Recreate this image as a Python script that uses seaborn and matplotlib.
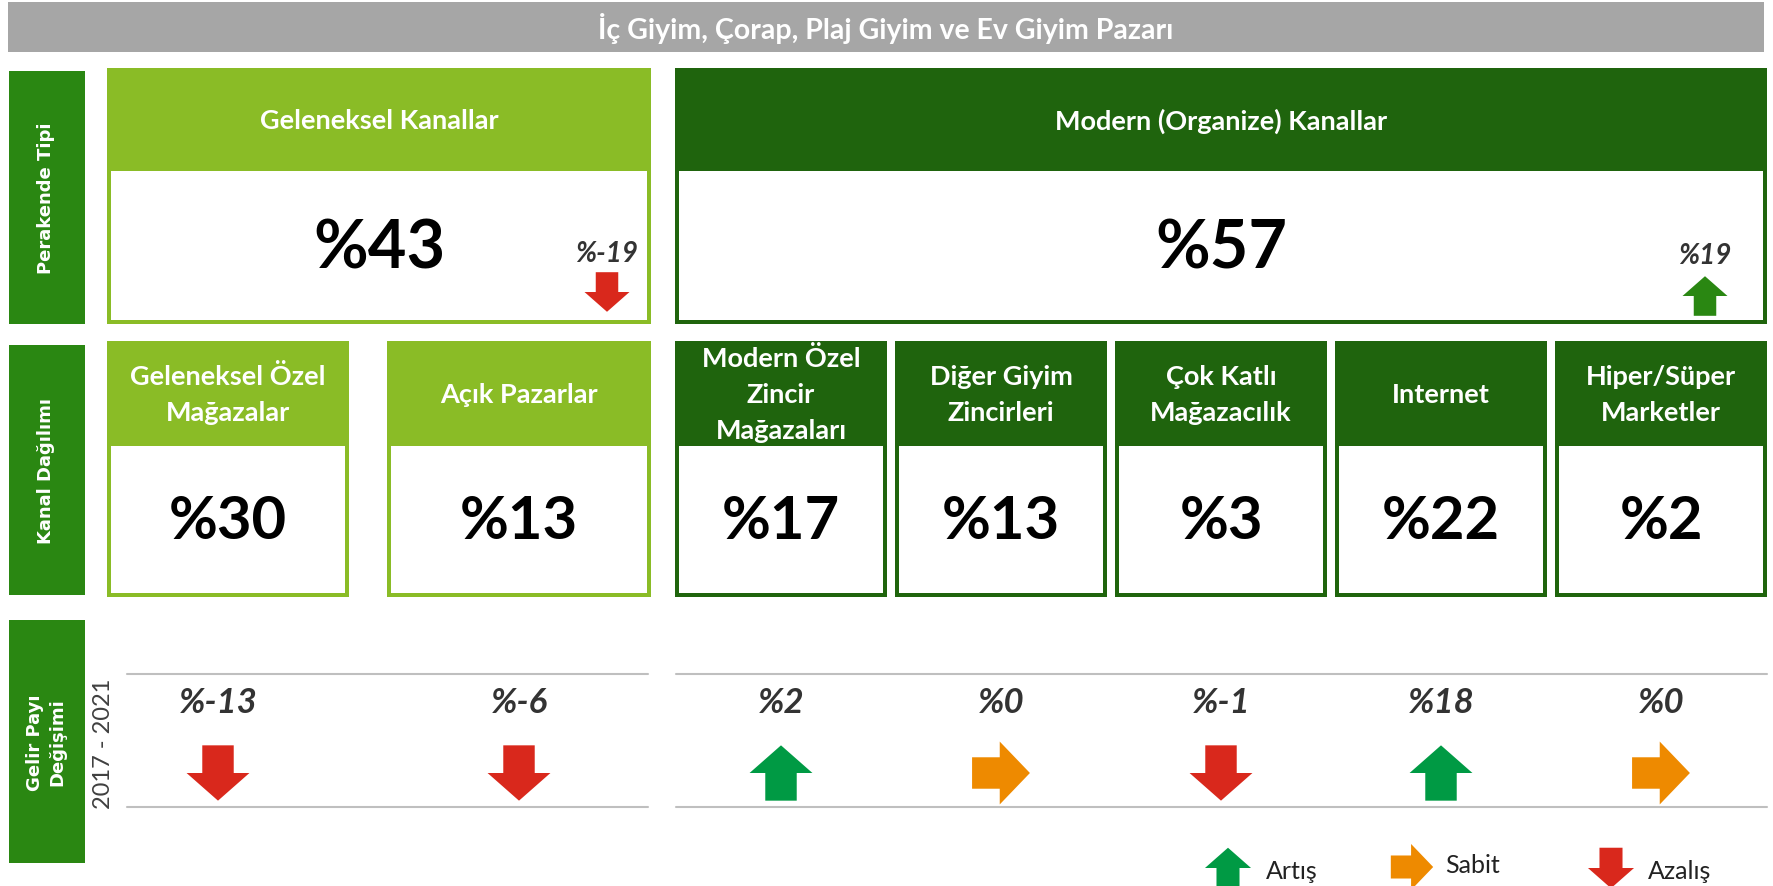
import matplotlib
matplotlib.use("Agg")
import matplotlib.pyplot as plt
from matplotlib.patches import Rectangle
from matplotlib.path import Path
import numpy as np
import pandas as pd
import seaborn as sns

#%% data
title = "İç Giyim, Çorap, Plaj Giyim ve Ev Giyim Pazarı"
row_labels = ["Perakende Tipi", "Kanal Dağılımı", "Gelir Payı\nDeğişimi"]
period = "2017 - 2021"

retail_types = ["Geleneksel Kanallar", "Modern (Organize) Kanallar"]
retail_shares = [43, 57]
retail_change = [-19, 19]

channels = ["Geleneksel Özel\nMağazalar", "Açık Pazarlar", "Modern Özel\nZincir\nMağazaları",
            "Diğer Giyim\nZincirleri", "Çok Katlı\nMağazacılık", "Internet", "Hiper/Süper\nMarketler"]
channel_group = [0, 0, 1, 1, 1, 1, 1]
channel_shares = [30, 13, 17, 13, 3, 22, 2]
channel_change = [-13, -6, 2, 0, -1, 18, 0]

legend_labels = ["Artış", "Sabit", "Azalış"]

#%% styling / layout (pixel space of the 1773x887 picture)
sns.set_theme(style="white")
plt.rcParams['font.family'] = ['Lato', 'DejaVu Sans']

W, H = 1773, 887
grey_bar = "#A6A6A6"
label_green = "#2A8712"
light_green = "#8ABC26"
dark_green = "#1F640D"
group_colors = [light_green, dark_green]
arrow_colors = {"Artış": "#009A44", "Sabit": "#EE8A00", "Azalış": "#D9281C"}
txt_dark = "#333333"

retail_x = [(107, 651), (675, 1767)]
channel_x = [(107, 349), (387, 651), (675, 887), (895, 1107), (1115, 1327), (1335, 1547), (1555, 1767)]
label_y = [(72, 325), (346, 596), (621, 864)]


def direction(v):
    if v > 0:
        return "Artış"
    if v < 0:
        return "Azalış"
    return "Sabit"


def arrow_marker(kind):
    up = np.array([(-0.25, -0.44), (0.25, -0.44), (0.25, 0.0), (0.5, 0.0), (0.0, 0.44),
                   (-0.5, 0.0), (-0.25, 0.0), (-0.25, -0.44)])
    if kind == "Azalış":
        verts = up * [1, -1]
    elif kind == "Sabit":
        verts = np.array([(-0.46, -0.25), (-0.02, -0.25), (-0.02, -0.5), (0.46, 0.0),
                          (-0.02, 0.5), (-0.02, 0.25), (-0.46, 0.25), (-0.46, -0.25)])
    else:
        verts = up
    return Path(verts, closed=True)


markers = {k: arrow_marker(k) for k in legend_labels}


def card(ax, x0, x1, y0, yh, y1, color, b=4):
    ax.add_patch(Rectangle((x0, y0), x1 - x0, y1 - y0, color=color, lw=0))
    ax.add_patch(Rectangle((x0 + b, yh), x1 - x0 - 2 * b, y1 - yh - b, color="white", lw=0))


fig = plt.figure(figsize=(W / 100, H / 100), dpi=100)
ax = fig.add_axes([0, 0, 1, 1])

# title bar
ax.add_patch(Rectangle((8, 3), 1756, 50, color=grey_bar, lw=0))
ax.text(886, 29, title, color="white", fontsize=20.5, fontweight="bold", ha="center", va="center")

# row labels
for (y0, y1), lab in zip(label_y, row_labels):
    ax.add_patch(Rectangle((9, y0), 76, y1 - y0, color=label_green, lw=0))
    ax.text(46, (y0 + y1) / 2, lab, rotation=90, color="white", fontsize=13, fontweight="bold",
            family="DejaVu Sans", ha="center", va="center", linespacing=1.3, multialignment="center")
ax.text(103, 744, period, rotation=90, color="#404040", fontsize=17, ha="center", va="center")

# row 1: retail type
for i, (x0, x1) in enumerate(retail_x):
    card(ax, x0, x1, 69, 172, 325, group_colors[i])
    xc = (x0 + x1) / 2
    ax.text(xc, 121, retail_types[i], color="white", fontsize=19.5, fontweight="bold", ha="center", va="center")
    ax.text(xc, 250, "%{}".format(retail_shares[i]), color="black", fontsize=48, fontweight="bold",
            ha="center", va="center")

small_x = [retail_x[0][1] - 44, retail_x[1][1] - 62]
ax.text(small_x[0], 254, "%{}".format(retail_change[0]), color=txt_dark, fontsize=20,
        fontweight="bold", style="italic", ha="center", va="center")
ax.text(small_x[1], 256, "%{}".format(retail_change[1]), color=txt_dark, fontsize=20,
        fontweight="bold", style="italic", ha="center", va="center")
retail_df = pd.DataFrame({"x": small_x, "y": [293, 297],
                          "dir": [direction(v) for v in retail_change]})
sns.scatterplot(data=retail_df, x="x", y="y", hue="dir", style="dir", markers=markers,
                palette={"Artış": label_green, "Azalış": arrow_colors["Azalış"], "Sabit": arrow_colors["Sabit"]},
                s=1050, linewidth=0, legend=False, ax=ax)

# row 2: channel split
for i, (x0, x1) in enumerate(channel_x):
    card(ax, x0, x1, 342, 447, 598, group_colors[channel_group[i]])
    xc = (x0 + x1) / 2
    ax.text(xc, 395, channels[i], color="white", fontsize=19.5, fontweight="bold", ha="center",
            va="center", linespacing=1.6, multialignment="center")
    ax.text(xc, 522, "%{}".format(channel_shares[i]), color="black", fontsize=43, fontweight="bold",
            ha="center", va="center")

# row 3: revenue share change 2017 - 2021
ax.plot([127, 648], [675, 675], color="#BFBFBF", lw=1.5)
ax.plot([127, 648], [808, 808], color="#BFBFBF", lw=1.5)
ax.plot([676, 1767], [675, 675], color="#BFBFBF", lw=1.5)
ax.plot([676, 1767], [808, 808], color="#BFBFBF", lw=1.5)

centers = [(x0 + x1) / 2 for x0, x1 in channel_x]
centers[0] -= 10
for xc, v in zip(centers, channel_change):
    ax.text(xc, 703, "%{}".format(v), color=txt_dark, fontsize=25, fontweight="bold", style="italic",
            ha="center", va="center")
change_df = pd.DataFrame({"x": centers, "y": [774] * len(centers),
                          "dir": [direction(v) for v in channel_change]})
sns.scatterplot(data=change_df, x="x", y="y", hue="dir", style="dir", markers=markers,
                palette=arrow_colors, s=2050, linewidth=0, legend=False, ax=ax)

# legend at the bottom
leg_df = pd.DataFrame({"x": [1228, 1412, 1611], "y": [869, 868, 869], "dir": legend_labels})
sns.scatterplot(data=leg_df, x="x", y="y", hue="dir", style="dir", markers=markers,
                palette=arrow_colors, s=1100, linewidth=0, legend=False, ax=ax)
for x, y, lab in zip([1266, 1445, 1648], [872, 866, 872], legend_labels):
    ax.text(x, y, lab, color="#222222", fontsize=18, ha="left", va="center")

ax.set_xlim(0, W)
ax.set_ylim(H, 0)
ax.axis("off")
fig.savefig("out.png", dpi=100)
